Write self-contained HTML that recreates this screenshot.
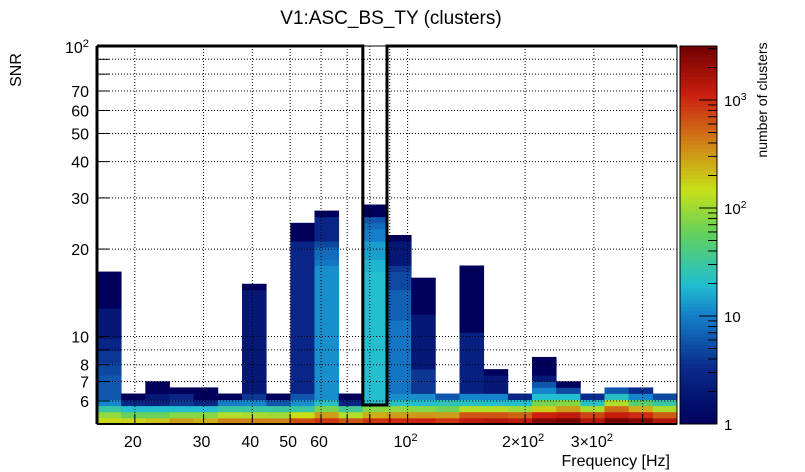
<!DOCTYPE html>
<html><head><meta charset="utf-8">
<style>
html,body{margin:0;padding:0;background:#fff;}
svg{display:block;font-family:"Liberation Sans",sans-serif;}
</style></head>
<body>
<svg id="chart" width="805" height="472" viewBox="0 0 805 472">
  <text x="391" y="24" font-size="19" text-anchor="middle">V1:ASC_BS_TY (clusters)</text>
  <g id="cells"></g>
  <g id="grid"></g>
  <g id="axes"></g>
  <g id="cbar"></g>
  <text x="0" y="0" font-size="16" text-anchor="middle" transform="translate(21,70) rotate(-90)">SNR</text>
  <text x="670" y="466" font-size="16" text-anchor="end">Frequency [Hz]</text>
  <text x="0" y="0" font-size="14" text-anchor="middle" transform="translate(767,100) rotate(-90)">number of clusters</text>
</svg>
<script>
// ---- data ----
const fMin = 16, fMax = 490, nCols = 24;
const sMin = 5, sMax = 100, nRows = 62;
const cMax = 3162;
// each column: runs of [count, numberOfRows] from lowest SNR bin upward
const col0 = [[160,1],[90,1],[30,1],[11,1],[6,4],[5,2],[4,2],[3,2],[2,5],[1,6]];
const col1 = [[170,1],[60,1],[20,1],[3,1],[1,1]];
const col2 = [[200,1],[60,1],[20,1],[2.5,1],[2,1],[1,2]];
const col3 = [[300,1],[80,1],[20,1],[4,1],[3,1],[1,1]];
const col4 = [[250,1],[80,1],[20,1],[3,1],[1,2]];
const col5 = [[400,1],[120,1],[30,1],[10,1],[1,1]];
const col6 = [[400,1],[110,1],[30,1],[11,1],[4,1],[2,17],[1,1]];
const col7 = [[400,1],[100,1],[30,1],[6,1],[1,1]];
const col8 = [[700,1],[150,1],[30,1],[12,1],[6,1],[3,25],[1,3]];
const col9 = [[900,1],[300,1],[70,1],[22,1],[12,22],[9,1],[8,2],[5,1],[3,4],[1,1]];
const col10 = [[650,1],[120,1],[35,1],[3,1],[1,1]];
const col11 = [[900,1],[250,1],[80,1],[20,22],[18,2],[14,3],[10,2],[8,1],[6,1],[1,2]];
const col12 = [[1000,1],[300,1],[90,1],[22,1],[12,1],[9,12],[7,5],[5,3],[4,1],[2,4],[1,1]];
const col13 = [[1100,1],[320,1],[80,1],[20,1],[12,1],[4,4],[2,9],[1,6]];
const col14 = [[900,1],[300,1],[65,1],[25,1],[6,1]];
const col15 = [[1300,1],[650,1],[120,1],[22,1],[11,1],[2.5,10],[1,11]];
const col16 = [[1500,1],[650,1],[120,1],[20,1],[11,1],[2,3],[1,1]];
const col17 = [[1300,1],[550,1],[100,1],[20,1],[3,1]];
const col18 = [[2500,1],[1100,1],[180,1],[70,1],[20,1],[11,1],[6,1],[2,1],[1,3]];
const col19 = [[3000,1],[1300,1],[300,1],[80,1],[20,1],[5,1],[1,1]];
const col20 = [[1500,1],[750,1],[110,1],[22,1],[3.5,1]];
const col21 = [[3000,1],[1200,1],[500,1],[120,1],[22,1],[6,1]];
const col22 = [[2500,1],[1000,1],[250,1],[50,1],[11,1],[3.5,1]];
const col23 = [[1500,1],[600,1],[110,1],[30,1],[5,1]];
const columns = [col0,col1,col2,col3,col4,col5,col6,col7,col8,col9,col10,col11,col12,col13,col14,col15,col16,col17,col18,col19,col20,col21,col22,col23];
const yTicks = [6,7,8,9,10,20,30,40,50,60,70,80,90,100];
const yLabels = ["6","7","8","","10","20","30","40","50","60","70","","",""];
const xTicks = [20,30,40,50,60,70,80,90,100,200,300,400];
const xLabels = ["20","30","40","50","60","","","","10^2","2×10^2","3×10^2",""];
const cbTicks = [1,10,100,1000];
const cbLabels = ["1","10","10^2","10^3"];

// ---- geometry ----
const L = 97, R = 677, T = 46, B = 424;
const NS = "http://www.w3.org/2000/svg";
function xScale(f){ return L + (R-L)*Math.log10(f/fMin)/Math.log10(fMax/fMin); }
function yScale(s){ return B - (B-T)*Math.log10(s/sMin)/Math.log10(sMax/sMin); }
function mk(tag, attrs, parent){ const e=document.createElementNS(NS,tag); for(const k in attrs) e.setAttribute(k,attrs[k]); parent.appendChild(e); return e; }
const stops = [[0,[0,0,92]],[0.15,[10,42,138]],[0.29,[21,128,204]],[0.37,[34,190,208]],[0.5,[96,208,96]],[0.62,[200,224,24]],[0.73,[208,140,24]],[0.87,[204,32,16]],[1,[112,0,0]]];
function color(c){
  let f = Math.log10(c)/Math.log10(cMax); f=Math.max(0,Math.min(1,f));
  for(let i=0;i<stops.length-1;i++){
    const a=stops[i], b=stops[i+1];
    if(f<=b[0]){ const t=(f-a[0])/(b[0]-a[0]); const r=a[1].map((v,j)=>Math.round(v+(b[1][j]-v)*t)); return `rgb(${r[0]},${r[1]},${r[2]})`; }
  }
  return "rgb(112,0,0)";
}
const cellG = document.getElementById('cells');
const logStepF = Math.log10(fMax/fMin)/nCols, logStepS = Math.log10(sMax/sMin)/nRows;
columns.forEach((runs, ci)=>{
  const f0 = fMin*Math.pow(10,ci*logStepF), f1 = fMin*Math.pow(10,(ci+1)*logStepF);
  let row = 0;
  runs.forEach(([cnt,n])=>{
    for(let k=0;k<n;k++){
      const s0 = sMin*Math.pow(10,row*logStepS), s1 = sMin*Math.pow(10,(row+1)*logStepS);
      const x0=xScale(f0), x1=xScale(f1), y0=yScale(s1), y1=yScale(s0);
      const r = mk('rect',{x:x0.toFixed(2),y:y0.toFixed(2),width:(x1-x0+0.4).toFixed(2),height:(y1-y0+0.4).toFixed(2),fill:color(cnt)},cellG);
      
      
      row++;
    }
  });
});
// grid
const gridG = document.getElementById('grid');
yTicks.forEach(v=>{ if(v>=sMax) return; const y=yScale(v);
  const l=mk('line',{x1:L,x2:R,y1:y,y2:y,stroke:'#000','stroke-width':1,'stroke-dasharray':'1,2'},gridG);
    });
xTicks.forEach(v=>{ const x=xScale(v); if(x>=R) return;
  const l=mk('line',{x1:x,x2:x,y1:T,y2:B,stroke:'#000','stroke-width':1,'stroke-dasharray':'1,2'},gridG);
    });
// axes
const ax = document.getElementById('axes');
function label(parent,x,y,txt,anchor,size){
  const t=mk('text',{x:x,y:y,'font-size':size,'text-anchor':anchor},parent);
  if(txt.includes('^')){ const [base,exp]=txt.split('^'); t.appendChild(document.createTextNode(base));
    const s=mk('tspan',{dy:-6,'font-size':size*0.7},t); s.textContent=exp; }
  else t.textContent=txt;
  return t;
}
yTicks.forEach((v,i)=>{ const y=yScale(v);
  mk('line',{x1:L,x2:L+12,y1:y,y2:y,stroke:'#000','stroke-width':1},ax);
  if(yLabels[i]){ const t=label(ax,89,y+6,yLabels[i],'end',16);
      }
});
label(ax,89,53,'10^2','end',16);
xTicks.forEach((v,i)=>{ const x=xScale(v); if(x>=R) return;
  mk('line',{x1:x,x2:x,y1:B,y2:B-10,stroke:'#000','stroke-width':1},ax);
  if(xLabels[i]){ const t=label(ax,x-2,447,xLabels[i],'middle',16);
      }
});
mk('rect',{x:L,y:T,width:R-L,height:B-T,fill:'none',stroke:'#000','stroke-width':1},ax);
mk('line',{x1:L,x2:L,y1:T,y2:B,stroke:'#000','stroke-width':3},ax);
mk('line',{x1:L,x2:R,y1:B,y2:B,stroke:'#000','stroke-width':2},ax);
// highlight polygon
const bx0=xScale(fMin*Math.pow(10,11*logStepF)), bx1=xScale(fMin*Math.pow(10,12*logStepF));
const poly=mk('polyline',{points:`${L},${T} ${bx0},${T} ${bx0},405 ${bx1},405 ${bx1},${T} ${R},${T}`,fill:'none',stroke:'#000','stroke-width':3},ax);
 
// colorbar
const cb=document.getElementById('cbar');
const cbx=680, cbw=37;
for(let i=0;i<100;i++){
  const f0=i/100, f1=(i+1)/100;
  const y0=B-(B-T)*f1, y1=B-(B-T)*f0;
  mk('rect',{x:cbx,y:y0.toFixed(2),width:cbw,height:(y1-y0+0.5).toFixed(2),fill:color(Math.pow(cMax,(f0+f1)/2))},cb);
}
mk('rect',{x:cbx,y:T,width:cbw,height:B-T,fill:'none',stroke:'#000','stroke-width':1},cb);
function cbY(c){ return B-(B-T)*Math.log10(c)/Math.log10(cMax); }
for(let d=1; d<=1000; d*=10){ for(let m=1;m<10;m++){ const c=d*m; if(c>cMax) break;
  const y=cbY(c); mk('line',{x1:cbx+cbw,x2:cbx+cbw-(m===1?18:9),y1:y,y2:y,stroke:'#000','stroke-width':1},cb); } }
cbTicks.forEach((c,i)=>{ const t=label(cb,724,cbY(c)+6,cbLabels[i],'start',15);
    });
</script>
</body></html>
